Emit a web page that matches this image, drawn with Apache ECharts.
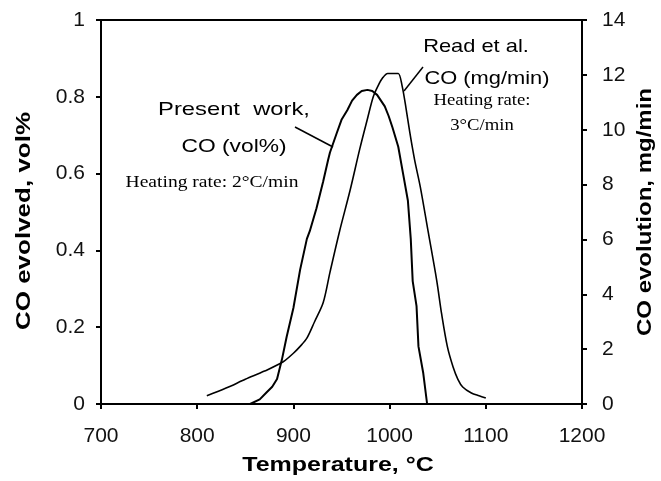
<!DOCTYPE html>
<html style="height: 100%">
<head>
    <meta charset="utf-8">
</head>
<body style="height: 100%; margin: 0; background: #fff">
    <div id="main" style="width: 661px; height: 481px"></div>
    <script src="https://cdn.jsdelivr.net/npm/echarts@6/dist/echarts.min.js"></script>
    <script type="text/javascript">

        // present work: [temperature C, CO vol%]
        var presentWork = [
            [855, 0], [865, 0.012], [872, 0.03], [878, 0.045], [883, 0.065], [888, 0.115],
            [893, 0.175], [900, 0.25], [907, 0.35], [914, 0.43], [917, 0.45], [924, 0.51],
            [931, 0.58], [936, 0.635], [938, 0.655], [945, 0.705], [950, 0.74], [956, 0.765],
            [961, 0.79], [966, 0.805], [971, 0.815], [977, 0.818], [982, 0.815], [987, 0.805],
            [991, 0.79], [995, 0.775], [999, 0.75], [1003, 0.72], [1009, 0.67], [1014, 0.6],
            [1019, 0.53], [1022, 0.43], [1024, 0.32], [1028, 0.255], [1030, 0.15],
            [1035, 0.08], [1039, 0]
        ];

        // Read et al.: [temperature C, CO mg/min]
        var readEtAl = [
            [810, 0.3], [830, 0.58], [850, 0.9], [870, 1.2], [889, 1.53], [900, 1.85],
            [907, 2.1], [914, 2.4], [922, 3.0], [931, 3.7], [938, 4.8], [948, 6.3],
            [959, 7.8], [969, 9.3], [977, 10.4], [983, 11.2], [988, 11.6], [993, 11.9],
            [998, 12.05], [1004, 12.05], [1009, 12.05], [1013, 11.6], [1017, 10.8],
            [1021, 9.9], [1026, 8.9], [1032, 7.9], [1040, 6.3], [1049, 4.5], [1054, 3.3],
            [1060, 2.1], [1066, 1.35], [1071, 0.9], [1076, 0.62], [1085, 0.4],
            [1093, 0.3], [1100, 0.22]
        ];

        var xTicks = [700, 1200, 100];
        var leftTicks = [0, 1, 0.2];
        var rightTicks = [0, 14, 2];

        var sans = '"Liberation Sans", Arial, sans-serif';
        var serif = '"Liberation Serif", "Times New Roman", serif';

        var myChart = echarts.init(document.getElementById('main'));

        function label(x, y, text, font, sx, rot) {
            return {
                type: 'text',
                x: x, y: y,
                rotation: rot || 0,
                scaleX: sx,
                silent: true,
                style: {
                    text: text,
                    font: font,
                    fill: '#000',
                    textAlign: 'center',
                    textVerticalAlign: 'middle'
                }
            };
        }

        var tickLabel = {
            fontFamily: sans,
            fontSize: 21,
            color: '#111',
            formatter: function (v) { return String(v); }
        };

        var option = {
            animation: false,
            backgroundColor: '#fff',
            grid: {
                left: 101, right: 79, top: 20, bottom: 77,
                show: true,
                borderColor: '#000',
                borderWidth: 2
            },
            xAxis: {
                type: 'value',
                min: xTicks[0], max: xTicks[1], interval: xTicks[2],
                axisLine: { lineStyle: { color: '#000', width: 2 } },
                axisTick: { inside: false, length: 5, lineStyle: { color: '#000', width: 2 } },
                axisLabel: Object.assign({ margin: 22 }, tickLabel),
                splitLine: { show: false }
            },
            yAxis: [{
                type: 'value',
                min: leftTicks[0], max: leftTicks[1], interval: leftTicks[2],
                axisLine: { show: true, lineStyle: { color: '#000', width: 2 } },
                axisTick: { show: true, length: 5, lineStyle: { color: '#000', width: 2 } },
                axisLabel: Object.assign({ margin: 16 }, tickLabel),
                splitLine: { show: false }
            }, {
                type: 'value',
                position: 'right',
                min: rightTicks[0], max: rightTicks[1], interval: rightTicks[2],
                axisLine: { show: true, lineStyle: { color: '#000', width: 2 } },
                axisTick: { show: true, length: 5, lineStyle: { color: '#000', width: 2 } },
                axisLabel: Object.assign({ margin: 20 }, tickLabel),
                splitLine: { show: false }
            }],
            series: [{
                name: 'Present work',
                type: 'line',
                yAxisIndex: 0,
                data: presentWork,
                showSymbol: false,
                lineStyle: { color: '#000', width: 2 }
            }, {
                name: 'Read et al.',
                type: 'line',
                yAxisIndex: 1,
                data: readEtAl,
                showSymbol: false,
                smooth: 0.3,
                lineStyle: { color: '#000', width: 1.6 }
            }],
            graphic: [
                label(338, 465, 'Temperature, \u00b0C', 'bold 20px ' + sans, 1.25),
                label(24, 221, 'CO evolved, vol%', 'bold 20px ' + sans, 1.3, Math.PI / 2),
                label(645, 212, 'CO evolution, mg/min', 'bold 20px ' + sans, 1.2, Math.PI / 2),
                label(234, 110, 'Present  work,', '19px ' + sans, 1.25),
                label(234, 147, 'CO (vol%)', '19px ' + sans, 1.2),
                label(212, 183, 'Heating rate: 2\u00b0C/min', '17px ' + serif, 1.15),
                label(476, 47, 'Read et al.', '19px ' + sans, 1.15),
                label(487, 79, 'CO (mg/min)', '19px ' + sans, 1.15),
                label(482, 101, 'Heating rate:', '17px ' + serif, 1.1),
                label(482, 126, '3\u00b0C/min', '17px ' + serif, 1.1),
                {
                    type: 'line', silent: true,
                    shape: { x1: 295, y1: 127, x2: 333, y2: 147 },
                    style: { stroke: '#000', lineWidth: 1.5 }
                },
                {
                    type: 'line', silent: true,
                    shape: { x1: 423, y1: 67, x2: 404, y2: 91 },
                    style: { stroke: '#000', lineWidth: 1.5 }
                }
            ]
        };

        myChart.setOption(option);

    </script>
</body>
</html>
